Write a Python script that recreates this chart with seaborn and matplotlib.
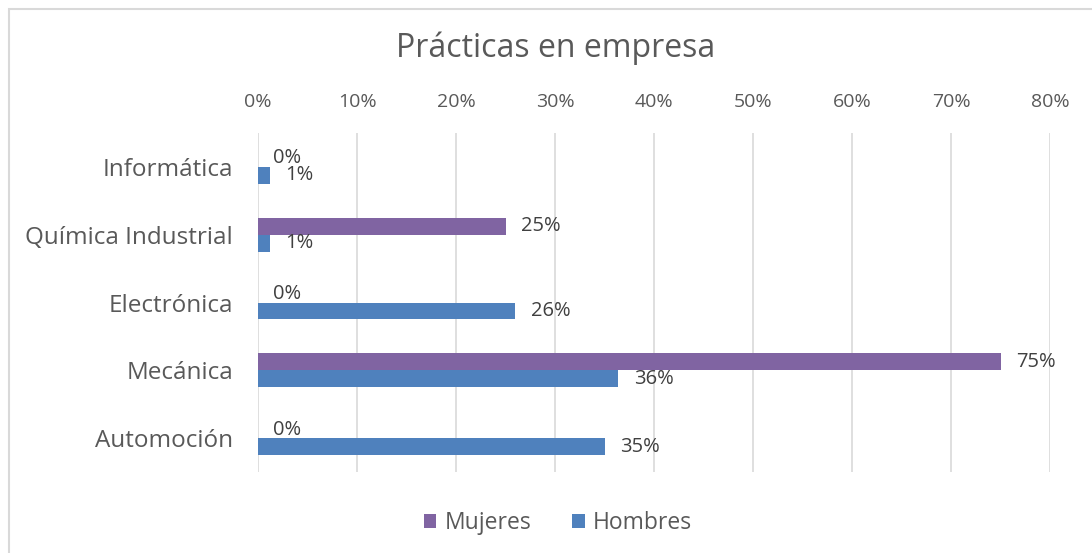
import pandas as pd
import matplotlib.pyplot as plt
import seaborn as sns
from matplotlib.patches import Rectangle

# data (percent)
categorias = ["Informática", "Química Industrial", "Electrónica", "Mecánica", "Automoción"]
mujeres = [0, 25, 0, 75, 0]
hombres = [1.2, 1.2, 26.0, 36.4, 35.0]
series = ["Mujeres", "Hombres"]
colores = ["#8064A2", "#4F81BD"]
ticks = [0, 10, 20, 30, 40, 50, 60, 70, 80]

df = pd.DataFrame({
    "Especialidad": categorias * 2,
    "Sexo": ["Mujeres"] * len(categorias) + ["Hombres"] * len(categorias),
    "Valor": mujeres + hombres,
})

sns.set_style("white")
plt.rcParams['font.family'] = ['Open Sans', 'DejaVu Sans']
gris = "#595959"

fig = plt.figure(figsize=(10.92, 5.53), dpi=100)
ax = fig.add_axes([258 / 1092, 1 - 472 / 553, (1050 - 258) / 1092, (472 - 133) / 553])

sns.barplot(data=df, x="Valor", y="Especialidad", hue="Sexo", hue_order=series,
            order=categorias, palette=colores, orient="h", width=0.5,
            saturation=1, linewidth=0, ax=ax, legend=True)

for cont in ax.containers:
    ax.bar_label(cont, labels=[f"{round(v.get_width())}%" for v in cont],
                 padding=11, fontsize=14.5, color="#404040")

ax.set_xlim(0, 80)
ax.set_ylim(4.5, -0.5)
ax.set_xticks(ticks)
ax.set_xticklabels([f"{t}%" for t in ticks])
ax.xaxis.tick_top()
ax.tick_params(axis="x", length=0, labelsize=14, labelcolor=gris, pad=16)
ax.tick_params(axis="y", length=0, labelsize=17.5, labelcolor=gris, pad=18)
ax.grid(axis="x", color="#D9D9D9", linewidth=1.2)
ax.set_axisbelow(True)
for s in ax.spines.values():
    s.set_visible(False)
ax.set_xlabel("")
ax.set_ylabel("")

ax.legend(handles=ax.get_legend().legend_handles, labels=series,
          loc="center", bbox_to_anchor=(558 / 1092, 1 - 523 / 553),
          bbox_transform=fig.transFigure, ncol=2, frameon=False,
          fontsize=16.5, labelcolor=gris, handlelength=0.55, handleheight=0.55,
          handletextpad=0.35, columnspacing=1.8)

fig.text(556 / 1092, 1 - 48 / 553, "Prácticas en empresa", ha="center", va="center",
         fontsize=23, color=gris)

fig.patches.append(Rectangle((8.5 / 1092, -0.05), 1.1, 1 - 8.5 / 553 + 0.05,
                             transform=fig.transFigure, fill=False,
                             edgecolor="#D9D9D9", linewidth=1.5))

fig.savefig("out.png", dpi=100)
